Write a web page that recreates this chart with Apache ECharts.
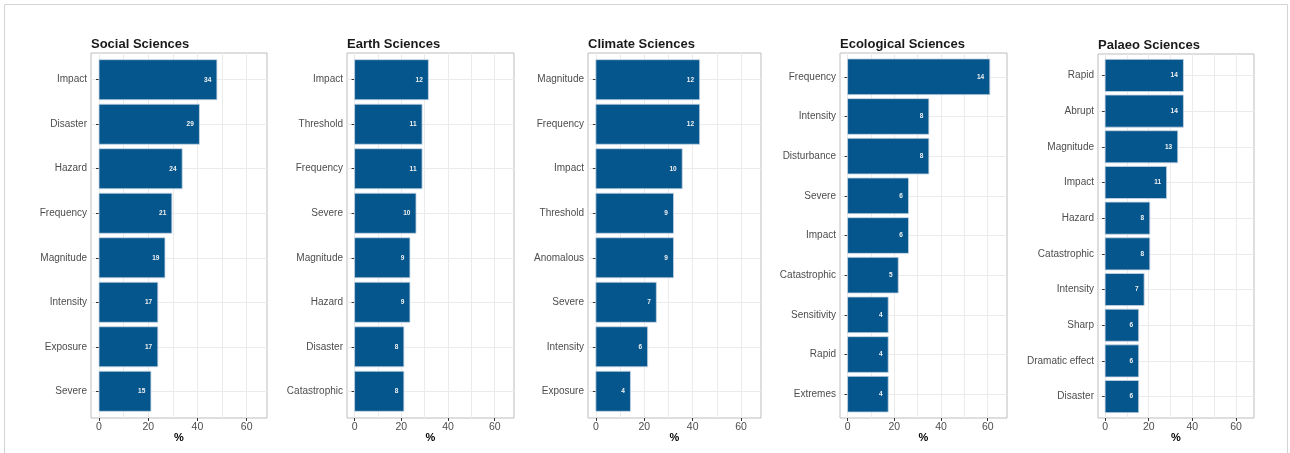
<!DOCTYPE html>
<html>
<head>
<meta charset="utf-8">
<script src="https://cdn.jsdelivr.net/npm/echarts@6/dist/echarts.min.js"></script>
<style>
  html, body { margin: 0; padding: 0; background: #ffffff; }
  #chart { width: 1290px; height: 453px; }
</style>
</head>
<body>
<div id="chart"></div>
<script>
// ---- Data ----
const panelTitles = ['Social Sciences', 'Earth Sciences', 'Climate Sciences', 'Ecological Sciences', 'Palaeo Sciences'];

const socialCats = ['Impact', 'Disaster', 'Hazard', 'Frequency', 'Magnitude', 'Intensity', 'Exposure', 'Severe'];
const socialPct = [47.9, 40.8, 33.8, 29.6, 26.8, 23.9, 23.9, 21.1];
const socialCounts = [34, 29, 24, 21, 19, 17, 17, 15];

const earthCats = ['Impact', 'Threshold', 'Frequency', 'Severe', 'Magnitude', 'Hazard', 'Disaster', 'Catastrophic'];
const earthPct = [31.6, 28.9, 28.9, 26.3, 23.7, 23.7, 21.1, 21.1];
const earthCounts = [12, 11, 11, 10, 9, 9, 8, 8];

const climateCats = ['Magnitude', 'Frequency', 'Impact', 'Threshold', 'Anomalous', 'Severe', 'Intensity', 'Exposure'];
const climatePct = [42.9, 42.9, 35.7, 32.1, 32.1, 25.0, 21.4, 14.3];
const climateCounts = [12, 12, 10, 9, 9, 7, 6, 4];

const ecologicalCats = ['Frequency', 'Intensity', 'Disturbance', 'Severe', 'Impact', 'Catastrophic', 'Sensitivity', 'Rapid', 'Extremes'];
const ecologicalPct = [60.9, 34.8, 34.8, 26.1, 26.1, 21.7, 17.4, 17.4, 17.4];
const ecologicalCounts = [14, 8, 8, 6, 6, 5, 4, 4, 4];

const palaeoCats = ['Rapid', 'Abrupt', 'Magnitude', 'Impact', 'Hazard', 'Catastrophic', 'Intensity', 'Sharp', 'Dramatic effect', 'Disaster'];
const palaeoPct = [35.9, 35.9, 33.3, 28.2, 20.5, 20.5, 17.9, 15.4, 15.4, 15.4];
const palaeoCounts = [14, 14, 13, 11, 8, 8, 7, 6, 6, 6];

const xMajorTicks = [0, 20, 40, 60];
const xGridTicks = [0, 10, 20, 30, 40, 50, 60];
const xAxisTitle = '%';

// ---- Layout / style ----
const allCats = [socialCats, earthCats, climateCats, ecologicalCats, palaeoCats];
const allPct = [socialPct, earthPct, climatePct, ecologicalPct, palaeoPct];
const allCounts = [socialCounts, earthCounts, climateCounts, ecologicalCounts, palaeoCounts];

const panelBoxes = [
  { left: 91, width: 176, top: 53, height: 365 },
  { left: 347, width: 167, top: 53, height: 365 },
  { left: 588, width: 173, top: 53, height: 365 },
  { left: 840, width: 167, top: 53, height: 365 },
  { left: 1098, width: 156, top: 54, height: 364 }
];

const FONT = '"Liberation Sans", Arial, Helvetica, sans-serif';
const BAR_COLOR = '#05568c';
const GRID_LINE = '#ebebeb';

const grids = [], xAxes = [], yAxes = [], series = [], titles = [];

panelBoxes.forEach((box, i) => {
  const cats = allCats[i];
  const n = cats.length;
  const yTicks = cats.map((_, k) => k + 1);

  grids.push({
    left: box.left, top: box.top, width: box.width, height: box.height,
    show: true, borderColor: '#bdbdbd', borderWidth: 1, backgroundColor: '#ffffff',
    containLabel: false
  });

  titles.push({
    text: panelTitles[i],
    left: box.left, top: box.top - 15, padding: 0,
    textStyle: { fontFamily: FONT, fontSize: 13, fontWeight: 'bold', color: '#1a1a1a' }
  });

  // axis used for vertical grid lines (major + minor)
  xAxes.push({
    gridIndex: i, type: 'value', position: 'bottom', offset: 0,
    min: -3.25, max: 68.25, splitNumber: 7,
    axisLine: { show: false },
    axisTick: { show: false, customValues: xGridTicks },
    axisLabel: { show: false, customValues: xGridTicks },
    splitLine: { show: true, lineStyle: { color: GRID_LINE, width: 1 } }
  });
  // axis used for labels / ticks
  xAxes.push({
    gridIndex: i, type: 'value', position: 'bottom', offset: 0,
    min: -3.25, max: 68.25, splitNumber: 4,
    name: xAxisTitle, nameLocation: 'middle', nameGap: 14, nameMoveOverlap: false,
    nameTextStyle: { fontFamily: FONT, fontSize: 11, fontWeight: 'bold', color: '#000' },
    axisLine: { show: false },
    axisTick: { show: true, length: 3, customValues: xMajorTicks, lineStyle: { color: '#333', width: 1 } },
    axisLabel: { show: true, customValues: xMajorTicks, margin: 4, fontFamily: FONT, fontSize: 10.5, color: '#4d4d4d' },
    splitLine: { show: false }
  });

  yAxes.push({
    gridIndex: i, type: 'value', position: 'left', inverse: true, min: 0.4, max: n + 0.6,
    axisLine: { show: false },
    axisTick: { show: true, length: 3, customValues: yTicks, lineStyle: { color: '#333', width: 1 } },
    axisLabel: {
      show: true, customValues: yTicks, margin: 4, fontFamily: FONT, fontSize: 10, color: '#4d4d4d',
      formatter: (v) => cats[Math.round(v) - 1] || ''
    },
    splitLine: { show: true, lineStyle: { color: GRID_LINE, width: 1 } }
  });

  series.push({
    type: 'custom',
    xAxisIndex: 2 * i + 1,
    yAxisIndex: i,
    data: allPct[i].map((p, k) => [p, k + 1, allCounts[i][k]]),
    encode: { x: 0, y: 1 },
    renderItem: (params, api) => {
      const v = api.value(0);
      const y = api.value(1);
      const p0 = api.coord([0, y]);
      const p1 = api.coord([v, y]);
      const h = api.size([0, 0.9])[1];
      return {
        type: 'rect',
        shape: { x: p0[0], y: p0[1] - h / 2, width: p1[0] - p0[0], height: h },
        style: { fill: BAR_COLOR, stroke: '#c8d6e4', lineWidth: 0.8 },
        textContent: {
          style: { text: String(api.value(2)), fill: '#f2f2f2', fontSize: 6.5, fontWeight: 'bold', fontFamily: FONT }
        },
        textConfig: { position: 'insideRight', distance: 6 }
      };
    }
  });
});

const chart = echarts.init(document.getElementById('chart'), null, { renderer: 'canvas' });
chart.setOption({
  animation: false,
  backgroundColor: '#ffffff',
  title: titles,
  grid: grids,
  xAxis: xAxes,
  yAxis: yAxes,
  series: series,
  graphic: [{
    type: 'rect', silent: true, z: -10,
    shape: { x: 4.5, y: 4.5, width: 1283, height: 500 },
    style: { fill: 'none', stroke: '#d4d4d4', lineWidth: 1 }
  }]
});
</script>
</body>
</html>
